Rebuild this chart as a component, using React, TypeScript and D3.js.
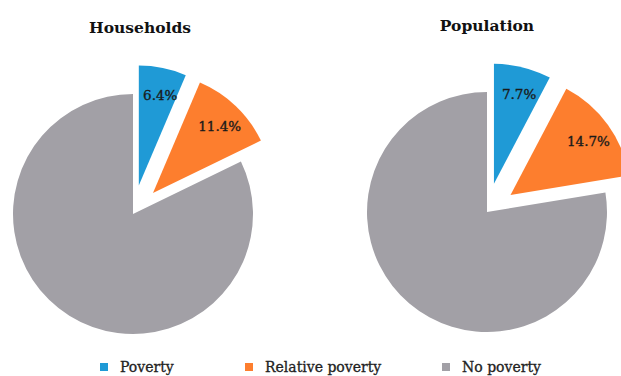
import React from "react";
import * as d3 from "d3";

const categories = ["Poverty", "Relative poverty", "No poverty"];
const householdsValues = [6.4, 11.4, 82.2];
const populationValues = [7.7, 14.7, 77.6];
const chartTitles = ["Households", "Population"];
const labelTexts = [["6.4%", "11.4%"], ["7.7%", "14.7%"]];
const colors = ["#1f9ad6", "#fd7e2e", "#a2a0a6"];

const W = 621;
const H = 376;
const R = 120;
const EXPLODE = 29;
const FONT = "'DejaVu Serif', 'Liberation Serif', serif";

function Pie({ values, cx, cy, titleX, title, labels }: { values: number[]; cx: number; cy: number; titleX: number; title: string; labels: string[] }) {
  const pie = d3.pie<number>().sort(null).value((d) => d);
  const arcs = pie(values);
  const arc = d3.arc<d3.PieArcDatum<number>>().innerRadius(0).outerRadius(R);
  const labelArc = d3.arc<d3.PieArcDatum<number>>().innerRadius(R * 1.54).outerRadius(R * 1.54);
  return (
    <g transform={`translate(${cx},${cy})`}>
      <text x={titleX} y={-181} textAnchor="middle" fontFamily={FONT} fontWeight="bold" fontSize={15.5} fill="#111">
        {title}
      </text>
      {arcs.map((a, i) => {
        const mid = (a.startAngle + a.endAngle) / 2;
        const off = i < 2 ? EXPLODE : 0;
        const dx = Math.sin(mid) * off;
        const dy = -Math.cos(mid) * off;
        const [lx, ly] = labelArc.centroid(a);
        return (
          <g key={i} transform={`translate(${dx},${dy})`}>
            <path d={arc(a) || ""} fill={colors[i]} />
            {i < 2 && (
              <text x={lx / 2 + 3} y={ly / 2} textAnchor="middle" dominantBaseline="central" fontFamily={FONT} fontSize={13.5} fill="#1a1a1a" stroke="#1a1a1a" strokeWidth={0.35}>
                {labels[i]}
              </text>
            )}
          </g>
        );
      })}
    </g>
  );
}

export default function App() {
  const legendX = [100, 245, 442];
  return (
    <svg width={W} height={H} style={{ position: "absolute", left: 0, top: 0, background: "#fff" }}>
      <rect width={W} height={H} fill="#fff" />
      <Pie values={householdsValues} cx={133} cy={214} titleX={7} title={chartTitles[0]} labels={labelTexts[0]} />
      <Pie values={populationValues} cx={487} cy={212} titleX={0} title={chartTitles[1]} labels={labelTexts[1]} />
      {categories.map((c, i) => (
        <g key={c} transform={`translate(${legendX[i]},363)`}>
          <rect width={8} height={8} fill={colors[i]} />
          <text x={20} y={9} fontFamily={FONT} fontSize={14} fill="#222" stroke="#222" strokeWidth={0.3}>
            {c}
          </text>
        </g>
      ))}
    </svg>
  );
}
